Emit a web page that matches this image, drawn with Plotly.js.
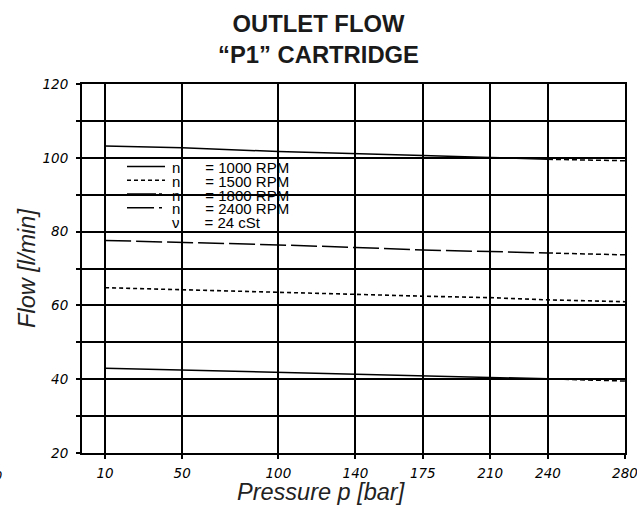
<!DOCTYPE html>
<html>
<head>
<meta charset="utf-8">
<script src="https://cdn.plot.ly/plotly-3.0.1.min.js"></script>
<style>html,body{margin:0;padding:0;background:#fff}#chart{width:637px;height:509px}</style>
</head>
<body>
<div id="chart"></div>
<script>
// ---- data ----
const pressure = [10, 50, 100, 140, 175, 210, 240, 280];
const flow1000 = [43.0, 42.5, 41.8, 41.3, 40.9, 40.5, 40.1, 39.5];
const flow1500 = [64.8, 64.2, 63.4, 63.0, 62.5, 62.1, 61.5, 61.0];
const flow1800 = [77.6, 77.1, 76.4, 75.7, 75.0, 74.6, 74.2, 73.7];
const flow2400 = [103.2, 102.7, 101.7, 101.2, 100.6, 100.1, 99.6, 99.2];
const xTickVals = [10, 50, 100, 140, 175, 210, 240, 280];
const legendSymbols = ['n', 'n', 'n', 'n', 'ν'];
const legendTexts = ['= 1000 RPM', '= 1500 RPM', '= 1800 RPM', '= 2400 RPM', '= 24 cSt'];

// ---- styles ----
const lineDashes = ['solid', '4px,3px', '26px,5px', 'solid'];
const keyDashes = ['solid', '4px,3px', '29px,3px,3px,4px', '27px,5px,3px,4px'];
const extDash = '5px,3px';
const series = [flow1000, flow1500, flow1800, flow2400];
const extended = [true, false, true, true];
const lastSolid = pressure.indexOf(240);

// plot box in pixels
const L = 82, R = 625, T = 84, B = 453;
const W = 637, H = 509;
const px = v => (v - L) / (R - L);
const py = v => (B - v) / (B - T);

const traces = [];
series.forEach((ys, i) => {
  const nm = legendSymbols[i] + ' ' + legendTexts[i];
  if (extended[i]) {
    traces.push({
      x: pressure.slice(0, lastSolid + 1), y: ys.slice(0, lastSolid + 1),
      mode: 'lines', line: {color: '#000', width: 1.5, dash: lineDashes[i]},
      name: nm, showlegend: false
    });
    traces.push({
      x: pressure.slice(lastSolid), y: ys.slice(lastSolid),
      mode: 'lines', line: {color: '#000', width: 1.5, dash: extDash},
      name: nm, showlegend: false
    });
  } else {
    traces.push({
      x: pressure, y: ys,
      mode: 'lines', line: {color: '#000', width: 1.6, dash: lineDashes[i]},
      name: nm, showlegend: false
    });
  }
});

// custom legend: rows are tighter than Plotly's own legend allows
const rowY0 = 166.5, rowDY = 13.75;
const legFont = 15;
const baseSize = rowDY / 1.3;   // line spacing of the block = rowDY
const gap = '\u00a0\u00a0\u00a0\u00a0\u00a0\u00a0';
const shapes = [{
  type: 'rect', xref: 'paper', yref: 'paper', layer: 'between',
  x0: px(103), x1: px(299), y0: py(230.5), y1: py(159.5),
  fillcolor: '#fff', line: {width: 0}
}];
keyDashes.forEach((d, i) => {
  const yc = rowY0 + i * rowDY;
  shapes.push({type: 'line', xref: 'paper', yref: 'paper',
    x0: px(127), x1: px(165), y0: py(yc), y1: py(yc),
    line: {color: '#000', width: 1.5, dash: d}});
});
const rows = legendTexts.map((t, i) =>
  '<span style="font-size:' + legFont + 'px">' + legendSymbols[i] + gap + t + '</span>');
const blockMid = rowY0 + rowDY * (legendTexts.length - 1) / 2;
const annotations = [];
annotations.push({xref: 'paper', yref: 'paper', x: px(170), y: py(blockMid + 1), xanchor: 'left', yanchor: 'middle',
  align: 'left', text: rows.join('<br>'), showarrow: false,
  font: {family: 'Liberation Sans, Arial, sans-serif', size: baseSize, color: '#000'}});
// x-axis title, centred on the page as in the reference
annotations.push({xref: 'paper', yref: 'paper', x: px(321), y: py(492), xanchor: 'center', yanchor: 'middle',
  text: 'Pressure p [bar]', showarrow: false,
  font: {family: 'Liberation Sans, Arial, sans-serif', size: 23.5, style: 'italic', color: '#222'}});
// clipped label at the far left edge of the reference
annotations.push({xref: 'paper', yref: 'paper', x: px(4), y: py(475), xanchor: 'right', yanchor: 'middle',
  text: '0', showarrow: false,
  font: {family: 'DejaVu Sans, sans-serif', size: 13, style: 'italic', color: '#000'}});

const tickFont = {family: 'DejaVu Sans, sans-serif', size: 13.5, style: 'italic', color: '#000'};

const layout = {
  width: W, height: H,
  margin: {l: L, r: W - R, t: T, b: H - B},
  paper_bgcolor: '#fff', plot_bgcolor: '#fff',
  showlegend: false,
  title: {
    text: 'OUTLET FLOW<br>“P1” CARTRIDGE',
    font: {family: 'Liberation Sans, Arial, sans-serif', size: 23.8, weight: 'bold', color: '#1a1a1a'},
    xref: 'container', x: 0.5, xanchor: 'center',
    yref: 'container', y: 1 - 32 / H, yanchor: 'top'
  },
  xaxis: {
    range: [-2, 280], tickmode: 'array', tickvals: xTickVals, ticktext: xTickVals.map(String),
    showgrid: true, gridcolor: '#000', gridwidth: 2,
    showline: true, linecolor: '#000', linewidth: 2, mirror: true,
    ticks: 'outside', ticklen: 4, tickwidth: 2, tickcolor: '#000', ticklabelstandoff: 3,
    ticklabeloverflow: 'allow',
    zeroline: false, tickfont: tickFont, fixedrange: true
  },
  yaxis: {
    range: [20, 120], tick0: 20, dtick: 20,
    showgrid: true, gridcolor: '#000', gridwidth: 2,
    showline: true, linecolor: '#000', linewidth: 2, mirror: true,
    ticks: 'outside', ticklen: 4, tickwidth: 2, tickcolor: '#000', ticklabelstandoff: 5,
    minor: {dtick: 10, showgrid: true, gridcolor: '#000', gridwidth: 2, ticks: 'outside', ticklen: 4, tickwidth: 2, tickcolor: '#000'},
    zeroline: false, tickfont: tickFont, fixedrange: true,
    title: {text: 'Flow [l/min]', standoff: 0,
      font: {family: 'Liberation Sans, Arial, sans-serif', size: 23.5, style: 'italic', color: '#222'}}
  },
  shapes: shapes,
  annotations: annotations
};

Plotly.newPlot('chart', traces, layout, {displayModeBar: false, staticPlot: true});
</script>
</body>
</html>
